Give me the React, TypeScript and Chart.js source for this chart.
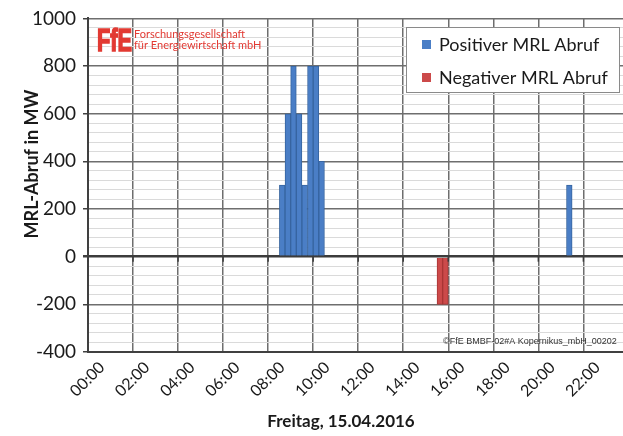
import React, { useEffect, useRef } from "react";
import { Chart, registerables } from "chart.js";

Chart.register(...registerables);

// ---- data ----
const hourTickLabels = ["00:00", "02:00", "04:00", "06:00", "08:00", "10:00", "12:00", "14:00", "16:00", "18:00", "20:00", "22:00"];
const yMajorTicks = [-400, -200, 0, 200, 400, 600, 800, 1000];

const positiveTimes = ["08:30", "08:45", "09:00", "09:15", "09:30", "09:45", "10:00", "10:15", "21:15"];
const positiveValues = [300, 600, 800, 600, 300, 800, 800, 400, 300];

const negativeTimes = ["15:30", "15:45"];
const negativeValues = [-200, -200];

const seriesNames = ["Positiver MRL Abruf", "Negativer MRL Abruf"];
const xTitle = "Freitag, 15.04.2016";
const yTitle = "MRL-Abruf in MW";
const logoMark = "FfE";
const logoLines = ["Forschungsgesellschaft", "für Energiewirtschaft mbH"];
const copyright = "©FfE BMBF-02#A Kopernikus_mbH_00202";

const QUARTER_H = 0.25;
const toHours = (t: string) => {
  const [h, m] = t.split(":").map(Number);
  return h + m / 60;
};
const toPoints = (times: string[], values: number[]) =>
  times.map((t, i) => ({ x: toHours(t) + QUARTER_H / 2, y: values[i] }));

const BLUE = "#4a7ec6";
const BLUE_BORDER = "#36649f";
const RED = "#cc4a4a";
const RED_BORDER = "#a83434";
const FONT = "Lato, 'Open Sans', sans-serif";

const overlayPlugin = {
  id: "overlay",
  afterDatasetsDraw(chart: any) {
    // small tick marks on the zero line (Excel axis crossing at 0)
    const { ctx } = chart;
    const xs = chart.scales.x;
    const y0 = chart.scales.y.getPixelForValue(0);
    ctx.save();
    ctx.strokeStyle = "#3c3c3c";
    ctx.lineWidth = 1.5;
    xs.ticks.forEach((t: any) => {
      const px = xs.getPixelForValue(t.value);
      ctx.beginPath();
      ctx.moveTo(px, y0);
      ctx.lineTo(px, y0 + 5);
      ctx.stroke();
    });
    ctx.restore();
  },
  afterDraw(chart: any) {
    const { ctx, chartArea } = chart;
    ctx.save();
    // Logo
    ctx.fillStyle = "#e23a33";
    ctx.strokeStyle = "#e23a33";
    ctx.textBaseline = "alphabetic";
    ctx.textAlign = "left";
    ctx.save();
    ctx.translate(chartArea.left + 9, chartArea.top + 33);
    ctx.scale(0.7, 1);
    ctx.font = `bold 31px 'Liberation Sans', Arial, sans-serif`;
    ctx.lineWidth = 1.6;
    ctx.fillText(logoMark, 0, 0);
    ctx.strokeText(logoMark, 0, 0);
    ctx.restore();
    ctx.font = `11px ${FONT}`;
    ctx.fillText(logoLines[0], chartArea.left + 46, chartArea.top + 20);
    ctx.fillText(logoLines[1], chartArea.left + 46, chartArea.top + 31);

    // Legend box
    const lx = 406, ly = 27, lw = 213, lh = 65;
    ctx.fillStyle = "#ffffff";
    ctx.fillRect(lx, ly, lw, lh);
    ctx.strokeStyle = "#8a8a8a";
    ctx.lineWidth = 1;
    ctx.strokeRect(lx + 0.5, ly + 0.5, lw, lh);
    ctx.font = `18px ${FONT}`;
    ctx.textBaseline = "middle";
    chart.data.datasets.forEach((ds: any, i: number) => {
      const cy = ly + 17 + i * 33;
      ctx.fillStyle = ds.backgroundColor;
      ctx.fillRect(lx + 16, cy - 4, 9, 9);
      ctx.fillStyle = "#1a1a1a";
      ctx.fillText(ds.label, lx + 33, cy + 1);
    });

    // Copyright
    ctx.font = `9px 'Liberation Sans', Arial, sans-serif`;
    ctx.fillStyle = "#333333";
    ctx.textBaseline = "middle";
    ctx.fillText(copyright, 443, chartArea.bottom - 10);

    // Axis titles
    ctx.fillStyle = "#1a1a1a";
    ctx.font = `bold 17px ${FONT}`;
    ctx.textAlign = "center";
    ctx.fillText(xTitle, 341, 422);
    ctx.translate(32, 164);
    ctx.rotate(-Math.PI / 2);
    ctx.font = `bold 18px ${FONT}`;
    ctx.fillText(yTitle, 0, 0);
    ctx.restore();
  },
};

export default function App() {
  const ref = useRef<HTMLCanvasElement | null>(null);

  useEffect(() => {
    if (!ref.current) return;
    const chart = new Chart(ref.current, {
      type: "bar",
      data: {
        datasets: [
          {
            label: seriesNames[0],
            data: toPoints(positiveTimes, positiveValues),
            backgroundColor: BLUE,
            borderColor: BLUE_BORDER,
            borderWidth: 1,
            grouped: false,
            barPercentage: 1,
            categoryPercentage: 1,
          },
          {
            label: seriesNames[1],
            data: toPoints(negativeTimes, negativeValues),
            backgroundColor: RED,
            borderColor: RED_BORDER,
            borderWidth: 1,
            grouped: false,
            barPercentage: 1,
            categoryPercentage: 1,
          },
        ],
      } as any,
      options: {
        responsive: false,
        animation: false,
        layout: { padding: { left: 0, top: 18, right: 12, bottom: 0 } },
        plugins: {
          legend: { display: false },
          tooltip: { enabled: false },
        },
        scales: {
          x: {
            type: "linear",
            min: 0,
            max: 24,
            offset: false,
            grid: { offset: false, color: "#6e6e6e", lineWidth: 1.5, drawTicks: false },
            border: { color: "#404040", width: 2 },
            ticks: {
              stepSize: 2,
              autoSkip: false,
              minRotation: 45,
              maxRotation: 45,
              labelOffset: 14,
              padding: 6,
              color: "#1a1a1a",
              font: { family: FONT, size: 16 },
              callback: (v: any) => hourTickLabels[Math.round(Number(v) / 2)] ?? "",
            },
            afterFit: (s: any) => {
              s.height = 84;
            },
          },
          y: {
            min: -400,
            max: 1000,
            grid: {
              color: (c: any) =>
                c.tick && c.tick.value === 0 ? "#3c3c3c" : c.tick && yMajorTicks.includes(c.tick.value) ? "#6e6e6e" : "#dadada",
              lineWidth: (c: any) =>
                c.tick && c.tick.value === 0 ? 2.5 : c.tick && yMajorTicks.includes(c.tick.value) ? 1.5 : 1,
              tickColor: (c: any) => (c.tick && yMajorTicks.includes(c.tick.value) ? "#404040" : "rgba(0,0,0,0)"),
              tickLength: 5,
            },
            border: { color: "#404040", width: 2 },
            ticks: {
              stepSize: 40,
              autoSkip: false,
              padding: 7,
              color: "#1a1a1a",
              font: { family: FONT, size: 19 },
              callback: (v: any) => (yMajorTicks.includes(Number(v)) ? String(v) : ""),
            },
            afterFit: (s: any) => {
              s.width = 88;
            },
          },
        },
      } as any,
      plugins: [overlayPlugin],
    });
    return () => chart.destroy();
  }, []);

  return (
    <div
      style={{
        position: "fixed",
        left: 0,
        top: 0,
        width: 623,
        height: 436,
        overflow: "hidden",
        background: "#ffffff",
      }}
    >
      <canvas ref={ref} width={648} height={436} style={{ display: "block", width: 648, height: 436 }} />
    </div>
  );
}
